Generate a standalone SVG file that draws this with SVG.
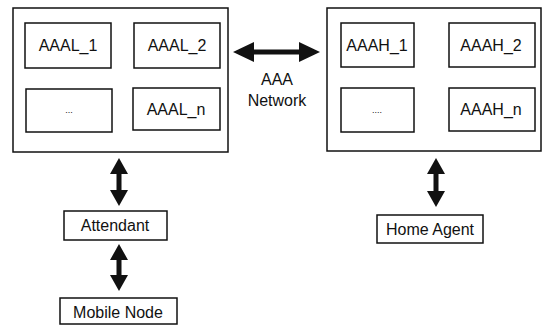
<svg xmlns="http://www.w3.org/2000/svg" width="546" height="325" viewBox="0 0 546 325">
<style>
.box{fill:#fff;stroke:#111;stroke-width:1.5}
.t{font-family:"Liberation Sans",Arial,sans-serif;font-size:16px;fill:#111;text-anchor:middle}
.arr{fill:#111;stroke:none}
</style>
<rect width="546" height="325" fill="#fff"/>
<g id="local-aaa">
<rect class="box" x="13" y="8" width="215" height="144"/>
<g id="AAAL_1"><rect class="box" x="25" y="23" width="86" height="45"/><text class="t" x="68" y="51">AAAL_1</text></g>
<g id="AAAL_2"><rect class="box" x="134" y="23" width="86" height="45"/><text class="t" x="177" y="51">AAAL_2</text></g>
<g id="AAAL_dots"><rect class="box" x="26" y="89" width="86" height="43"/><text class="t" x="69" y="113" style="font-size:9px">...</text></g>
<g id="AAAL_n"><rect class="box" x="133" y="88" width="87" height="42"/><text class="t" x="176" y="115">AAAL_n</text></g>
</g>
<g id="home-aaa">
<rect class="box" x="327" y="8" width="214" height="143"/>
<g id="AAAH_1"><rect class="box" x="341" y="23" width="73" height="44"/><text class="t" x="377" y="51">AAAH_1</text></g>
<g id="AAAH_2"><rect class="box" x="449" y="23" width="86" height="44"/><text class="t" x="491" y="51">AAAH_2</text></g>
<g id="AAAH_dots"><rect class="box" x="341" y="88" width="73" height="44"/><text class="t" x="377" y="113" style="font-size:9px">....</text></g>
<g id="AAAH_n"><rect class="box" x="449" y="88" width="86" height="43"/><text class="t" x="491" y="115">AAAH_n</text></g>
</g>
<g id="network-label"><text class="t" x="277" y="85">AAA</text><text class="t" x="277" y="106">Network</text></g>
<g id="attendant"><rect class="box" x="64" y="211" width="103" height="29"/><text class="t" x="115" y="231">Attendant</text></g>
<g id="mobile-node"><rect class="box" x="60" y="298" width="117" height="26"/><text class="t" x="118" y="318">Mobile Node</text></g>
<g id="home-agent"><rect class="box" x="377" y="215" width="106" height="28"/><text class="t" x="430" y="235">Home Agent</text></g>
<g id="connectors">
<path class="arr" d="M233 52 L254 42 L254 49.5 L299 49.5 L299 42 L320 52 L299 62 L299 54.5 L254 54.5 L254 62 Z"/>
<path class="arr" d="M119 158 L128 174 L121.5 174 L121.5 190 L128 190 L119 206 L110 190 L116.5 190 L116.5 174 L110 174 Z"/>
<path class="arr" d="M119 244 L128 260 L121.5 260 L121.5 275 L128 275 L119 291 L110 275 L116.5 275 L116.5 260 L110 260 Z"/>
<path class="arr" d="M436 158 L445 174 L438.5 174 L438.5 191 L445 191 L436 207 L427 191 L433.5 191 L433.5 174 L427 174 Z"/>
</g>
</svg>
